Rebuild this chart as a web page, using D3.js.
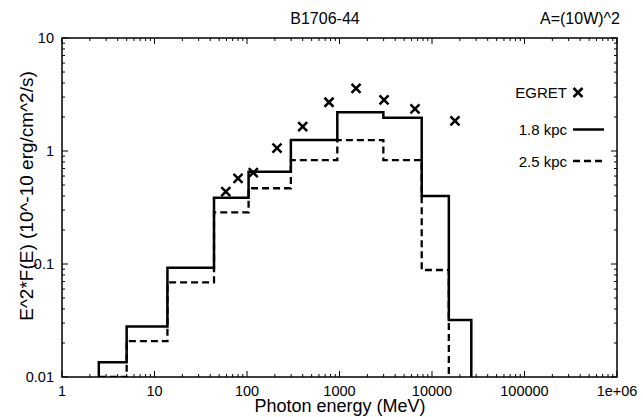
<!DOCTYPE html>
<html lang="en">
<head>
<meta charset="utf-8">
<script src="https://cdn.jsdelivr.net/npm/d3@7/dist/d3.min.js"></script>
<style>
  body { margin: 0; background: #fff; }
  text { font-family: "Liberation Sans", Arial, sans-serif; fill: #000; }
</style>
<title>B1706-44</title>
</head>
<body>
<script>
// bin edges (MeV) of the model histograms
var binEdges = [2.5, 5, 13.8, 44, 104, 298, 947, 2980, 7740, 15200, 26600];
// model flux per bin, 10^-10 erg/cm^2/s
var flux18 = [0.0135, 0.028, 0.0927, 0.386, 0.656, 1.25, 2.20, 1.97, 0.40, 0.0319];
var flux25 = [0.01, 0.0208, 0.0689, 0.286, 0.468, 0.832, 1.25, 0.832, 0.0885];
// EGRET points
var egretE = [59, 80, 117, 211, 400, 770, 1510, 3030, 6550, 17700];
var egretF = [0.438, 0.573, 0.643, 1.06, 1.64, 2.70, 3.59, 2.83, 2.36, 1.85];

var xTicks = [1, 10, 100, 1000, 10000, 100000, 1000000];
var xTickLabels = ["1", "10", "100", "1000", "10000", "100000", "1e+06"];
var yTicks = [0.01, 0.1, 1, 10];
var yTickLabels = ["0.01", "0.1", "1", "10"];

var w = 643, h = 417;
var padL = 62, padR = 617, padT = 38, padB = 377;

var svg = d3.select("body").append("svg")
  .attr("width", w)
  .attr("height", h);

var x = d3.scaleLog().domain([1, 1e6]).range([padL, padR]);
var y = d3.scaleLog().domain([0.01, 10]).range([padB, padT]);

svg.append("defs").append("clipPath").attr("id", "plot")
  .append("rect")
  .attr("x", padL).attr("y", padT)
  .attr("width", padR - padL).attr("height", padB - padT);

// minor ticks 2..9 per decade
var xMinor = [], yMinor = [];
for (var d = 0; d < 6; d++) for (var k = 2; k < 10; k++) xMinor.push(k * Math.pow(10, d));
for (var d = -2; d < 1; d++) for (var k = 2; k < 10; k++) yMinor.push(k * Math.pow(10, d));

var ticks = svg.append("g").attr("stroke", "#000").attr("stroke-width", 1);
xTicks.forEach(function(v) {
  ticks.append("line").attr("x1", x(v)).attr("x2", x(v)).attr("y1", padB).attr("y2", padB - 6);
  ticks.append("line").attr("x1", x(v)).attr("x2", x(v)).attr("y1", padT).attr("y2", padT + 6);
});
xMinor.forEach(function(v) {
  ticks.append("line").attr("x1", x(v)).attr("x2", x(v)).attr("y1", padB).attr("y2", padB - 3);
  ticks.append("line").attr("x1", x(v)).attr("x2", x(v)).attr("y1", padT).attr("y2", padT + 3);
});
yTicks.forEach(function(v) {
  ticks.append("line").attr("x1", padL).attr("x2", padL + 6).attr("y1", y(v)).attr("y2", y(v));
  ticks.append("line").attr("x1", padR).attr("x2", padR - 6).attr("y1", y(v)).attr("y2", y(v));
});
yMinor.forEach(function(v) {
  ticks.append("line").attr("x1", padL).attr("x2", padL + 3).attr("y1", y(v)).attr("y2", y(v));
  ticks.append("line").attr("x1", padR).attr("x2", padR - 3).attr("y1", y(v)).attr("y2", y(v));
});

svg.append("rect")
  .attr("x", padL).attr("y", padT)
  .attr("width", padR - padL).attr("height", padB - padT)
  .attr("fill", "none").attr("stroke", "#000").attr("stroke-width", 1.5);

// tick labels
svg.selectAll(".xl").data(xTicks).enter().append("text")
  .attr("x", function(v) { return x(v); })
  .attr("y", padB + 19)
  .attr("text-anchor", "middle")
  .style("font-size", "14.5px")
  .text(function(v, i) { return xTickLabels[i]; });

svg.selectAll(".yl").data(yTicks).enter().append("text")
  .attr("x", padL - 8)
  .attr("y", function(v) { return y(v) + 5; })
  .attr("text-anchor", "end")
  .style("font-size", "14.5px")
  .text(function(v, i) { return yTickLabels[i]; });

// histograms
function stepPoints(vals) {
  var pts = [[binEdges[0], 0.01]];
  vals.forEach(function(v, i) { pts.push([binEdges[i], v]); });
  pts.push([binEdges[vals.length], 0.01]);
  return pts;
}
var line = d3.line()
  .x(function(p) { return x(p[0]); })
  .y(function(p) { return y(p[1]); })
  .curve(d3.curveStepAfter);

var plot = svg.append("g").attr("clip-path", "url(#plot)");
plot.append("path")
  .attr("d", line(stepPoints(flux18)))
  .attr("fill", "none").attr("stroke", "#000").attr("stroke-width", 2.5);
plot.append("path")
  .attr("d", line(stepPoints(flux25)))
  .attr("fill", "none").attr("stroke", "#000").attr("stroke-width", 2.3)
  .attr("stroke-dasharray", "7,4");

var cross = "M-4.5,-4.5L4.5,4.5M-4.5,4.5L4.5,-4.5";
svg.selectAll(".pt").data(egretE).enter().append("path")
  .attr("transform", function(e, i) { return "translate(" + x(e) + "," + y(egretF[i]) + ")"; })
  .attr("d", cross)
  .attr("stroke", "#000").attr("stroke-width", 2.5).attr("fill", "none");

// legend
var leg = svg.append("g");
leg.append("text").attr("x", 567).attr("y", 98).attr("text-anchor", "end").style("font-size", "15px").text("EGRET");
leg.append("path").attr("transform", "translate(578,92.5)").attr("d", cross)
  .attr("stroke", "#000").attr("stroke-width", 2.5).attr("fill", "none");
leg.append("text").attr("x", 567).attr("y", 135).attr("text-anchor", "end").style("font-size", "15px").text("1.8 kpc");
leg.append("line").attr("x1", 573).attr("x2", 604).attr("y1", 129.5).attr("y2", 129.5)
  .attr("stroke", "#000").attr("stroke-width", 2.5);
leg.append("text").attr("x", 567).attr("y", 167).attr("text-anchor", "end").style("font-size", "15px").text("2.5 kpc");
leg.append("line").attr("x1", 573).attr("x2", 604).attr("y1", 161).attr("y2", 161)
  .attr("stroke", "#000").attr("stroke-width", 2.3).attr("stroke-dasharray", "7,4");

// titles
svg.append("text").attr("x", 325).attr("y", 24).attr("text-anchor", "middle").style("font-size", "16px").text("B1706-44");
svg.append("text").attr("x", 620).attr("y", 24).attr("text-anchor", "end").style("font-size", "16px").text("A=(10W)^2");

svg.append("text").attr("x", 340).attr("y", 412).attr("text-anchor", "middle").style("font-size", "18px").text("Photon energy (MeV)");
svg.append("text")
  .attr("transform", "translate(33,196) rotate(-90)")
  .attr("text-anchor", "middle")
  .style("font-size", "19px")
  .text("E^2*F(E) (10^-10 erg/cm^2/s)");
</script>
</body>
</html>
